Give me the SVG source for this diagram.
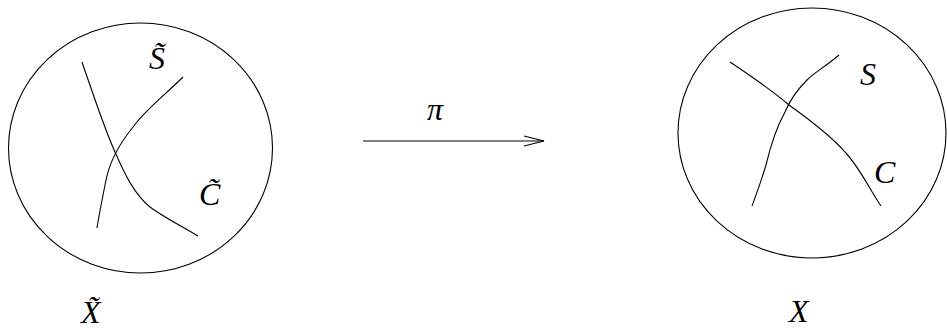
<svg xmlns="http://www.w3.org/2000/svg" width="947" height="330" viewBox="0 0 947 330">
<style>
.ln{fill:none;stroke:#000;stroke-width:1.1}
.m{font-family:"Liberation Serif","DejaVu Serif",serif;font-style:italic;font-size:32px;fill:#000}
</style>
<g id="Xtilde">
<ellipse class="ln" cx="140.5" cy="148" rx="132" ry="125"/>
<path class="ln" d="M82,62 C95,100 105,130 115,152 C125,175 135,195 150,207 C165,218 185,228 198,236"/>
<path class="ln" d="M183,77 C165,95 145,110 133,127 C120,143 110,160 106,180 C102,200 99,215 97,228"/>
<text class="m" x="149" y="69">S&#x303;</text>
<text class="m" x="199" y="205">C&#x303;</text>
<text class="m" x="81" y="323">X&#x303;</text>
</g>
<g id="X">
<ellipse class="ln" cx="812" cy="133" rx="134" ry="125"/>
<path class="ln" d="M730,62 C760,82 775,93 789,105 C810,120 830,135 845,152 C860,168 870,190 881,206"/>
<path class="ln" d="M839,55 C825,67 815,72 807,80 C797,90 790,100 785,112 C775,130 770,148 766,165 C760,185 756,195 752,206"/>
<text class="m" x="860" y="85">S</text>
<text class="m" x="874" y="183">C</text>
<text class="m" x="789" y="322">X</text>
</g>
<g id="connectors">
<line class="ln" x1="363" y1="141" x2="544" y2="141"/>
<polyline class="ln" points="524,136 544,141 524,146"/>
<text class="m" x="427" y="120">π</text>
</g>
</svg>
